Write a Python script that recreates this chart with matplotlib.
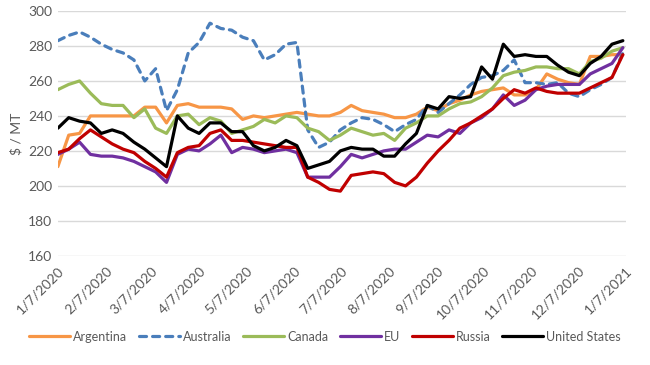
import pandas as pd
import matplotlib
matplotlib.use("Agg")
import matplotlib.pyplot as plt

plt.rcParams['font.family'] = ['Lato', 'DejaVu Sans']

# Weekly readings, 7 Jan 2020 .. 5 Jan 2021
fechas = pd.date_range('2020-01-07', periods=53, freq='7D')

argentina = [211, 229, 230, 240, 240, 240, 240, 240, 245, 245, 236, 246, 247, 245, 245, 245, 244, 238,
             240, 239, 240, 241, 242, 241, 240, 240, 242, 246, 243, 242, 241, 239, 239, 241, 245, 243,
             247, 249, 252, 254, 255, 256, 252, 252, 255, 264, 261, 259, 258, 274, 274, 275, 275]
australia = [283, 286, 288, 285, 281, 278, 276, 272, 260, 267, 243, 255, 276, 282, 293, 290, 289, 285,
             283, 272, 275, 281, 282, 232, 222, 225, 232, 236, 239, 238, 235, 231, 235, 238, 246, 242,
             247, 252, 258, 262, 263, 266, 272, 259, 259, 258, 259, 253, 251, 255, 258, 262, 276]
canada = [255, 258, 260, 253, 247, 246, 246, 239, 244, 233, 230, 240, 241, 235, 239, 237, 230, 232,
          234, 238, 236, 240, 239, 233, 231, 226, 229, 233, 231, 229, 230, 226, 233, 236, 240, 240,
          244, 247, 248, 251, 256, 263, 265, 266, 268, 268, 267, 267, 264, 271, 273, 277, 279]
eu = [218, 221, 225, 218, 217, 217, 216, 214, 211, 208, 202, 218, 221, 220, 224, 229, 219, 222,
      221, 219, 220, 221, 219, 205, 205, 205, 211, 218, 216, 218, 220, 221, 221, 225, 229, 228,
      232, 230, 236, 239, 244, 252, 246, 249, 255, 257, 258, 258, 258, 264, 267, 270, 279]
russia = [219, 221, 227, 232, 228, 224, 221, 219, 214, 210, 205, 219, 222, 223, 230, 232, 226, 226,
          225, 224, 223, 222, 222, 205, 202, 198, 197, 206, 207, 208, 207, 202, 200, 205, 213, 220,
          226, 233, 236, 240, 244, 250, 255, 253, 256, 254, 253, 253, 253, 256, 259, 262, 275]
estados_unidos = [233, 239, 237, 236, 230, 232, 230, 225, 221, 216, 211, 240, 233, 230, 236, 236, 231, 231,
                  223, 220, 222, 226, 223, 210, 212, 214, 220, 222, 221, 221, 217, 217, 224, 230, 246, 244,
                  251, 250, 251, 268, 261, 281, 274, 275, 274, 274, 269, 265, 263, 270, 274, 281, 283]

series = [
    ('Argentina', argentina, '#F79646', '-'),
    ('Australia', australia, '#4A7EBB', '--'),
    ('Canada', canada, '#9BBB59', '-'),
    ('EU', eu, '#7030A0', '-'),
    ('Russia', russia, '#C00000', '-'),
    ('United States', estados_unidos, '#000000', '-'),
]

fig = plt.figure(figsize=(6.5, 3.65), dpi=100)
ax = fig.add_axes([0.089, 0.299, 0.874, 0.671])

for nombre, valores, color, estilo in series:
    linea, = ax.plot(fechas, valores, color=color, lw=2.3, label=nombre,
                     solid_joinstyle='round', solid_capstyle='round')
    if estilo == '--':
        linea.set_dashes((2.2, 1.9))
        linea.set_dash_capstyle('round')

# Ejes
ax.set_ylim(160, 300)
ax.set_yticks(range(160, 301, 20))
inicio = pd.Timestamp('2020-01-07')
fin = pd.Timestamp('2021-01-07')
ax.set_xlim(inicio, fin)
meses = [inicio + pd.DateOffset(months=i) for i in range(13)]
ax.set_xticks(meses)
ax.set_xticklabels([f'{d.month}/{d.day}/{d.year}' for d in meses], rotation=45,
                   ha='right', va='top', rotation_mode='anchor')

ax.grid(axis='y', color='#D9D9D9', lw=1)
ax.set_axisbelow(True)
for s in ax.spines.values():
    s.set_visible(False)
ax.tick_params(length=0, labelsize=10, colors='#595959', pad=4)
ax.tick_params(axis='x', pad=6)
ax.set_ylabel('$ / MT', fontsize=10, color='#595959', labelpad=4)

fig.legend(loc='lower center', bbox_to_anchor=(0.5, 0.03), ncol=6, frameon=False,
           handlelength=3.3, columnspacing=0.9, handletextpad=0.25,
           prop={'size': 9}, labelcolor='#595959')

fig.savefig('out.png', dpi=100)
